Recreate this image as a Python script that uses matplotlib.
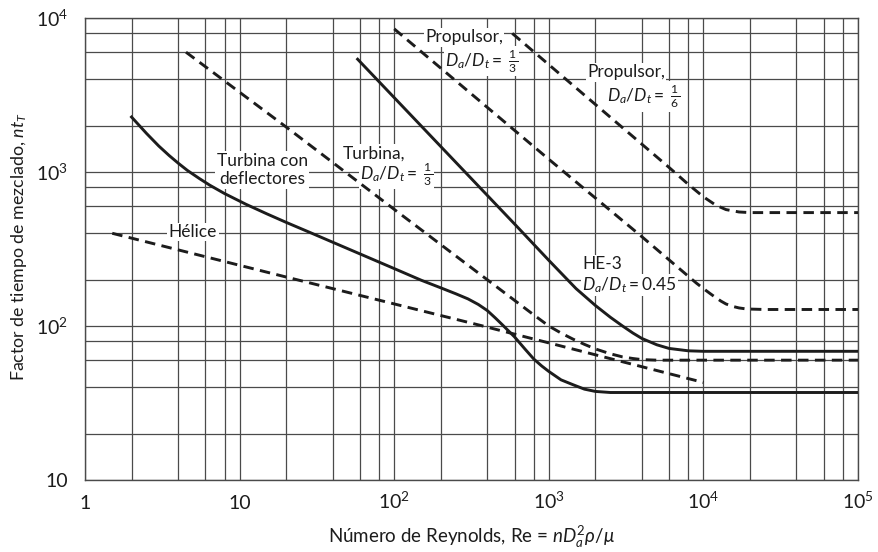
import matplotlib
matplotlib.use("Agg")
import matplotlib.pyplot as plt
from matplotlib.ticker import LogLocator, NullFormatter

plt.rcParams["font.family"] = ["Lato", "DejaVu Sans"]
plt.rcParams["mathtext.fontset"] = "custom"
plt.rcParams["mathtext.rm"] = "Lato"
plt.rcParams["mathtext.it"] = "Lato:italic"
plt.rcParams["mathtext.bf"] = "Lato:bold"
plt.rcParams["mathtext.fallback"] = "stixsans"

# Hélice (dashed)
helice_re = [1.5, 20, 360, 10000]
helice_nt = [400, 208, 101, 43]

# Turbina con deflectores (solid)
defl_re = [2, 2.5, 3, 3.5, 4, 4.6, 5.5, 6.4, 8, 11, 15, 20, 28.5, 40, 60, 100,
           150, 200, 250, 300, 350, 400, 450, 500, 600, 700, 800, 900, 1000,
           1200, 1440, 1700, 2000, 2500, 1e5]
defl_nt = [2275, 1780, 1475, 1280, 1143, 1023, 906, 822, 724, 617, 535, 471,
           405, 350, 294, 236, 198, 177, 162, 150, 138, 126, 113, 102, 85, 71,
           61, 55, 50.7, 44.7, 41.5, 38.9, 37.6, 37, 37]

# Turbina, Da/Dt = 1/3 (dashed)
turb_re = [4.5, 20, 100, 800, 1000, 1200, 1440, 1700, 2000, 2500, 3000, 3500,
           4000, 5000, 1e5]
turb_nt = [6000, 1960, 572, 118, 100, 90, 82, 76, 71, 66, 63, 61.5, 60.5, 60,
           60]

# HE-3, Da/Dt = 0.45 (solid)
he3_re = [58, 600, 1000, 1500, 2000, 2500, 3000, 3500, 4000, 5000, 6000, 8000,
          10000, 1e5]
he3_nt = [5400, 460, 267, 175, 136, 114, 100, 90, 83, 75.5, 71.5, 69, 68.5,
          68.5]

# Propulsor, Da/Dt = 1/3 (dashed)
prop3_re = [100, 1000, 4000, 9000, 10000, 11000, 12000, 13000, 14000, 15500,
            17000, 19000, 25000, 1e5]
prop3_nt = [8500, 1210, 380, 190, 175, 163, 153, 145, 139, 134, 131, 129, 128,
            128]

# Propulsor, Da/Dt = 1/6 (dashed)
prop6_re = [580, 6000, 8000, 10000, 12000, 14000, 17000, 20000, 1e5]
prop6_nt = [7950, 1070, 830, 690, 610, 570, 550, 545, 545]

x_ticks = [1, 10, 1e2, 1e3, 1e4, 1e5]
x_tick_labels = ["1", "10", "$10^2$", "$10^3$", "$10^4$", "$10^5$"]
y_ticks = [10, 1e2, 1e3, 1e4]
y_tick_labels = ["10", "$10^2$", "$10^3$", "$10^4$"]

ink = "#1c1c1c"
grid_col = "#4a4a4a"

fig = plt.figure(figsize=(8.79, 5.52), dpi=100)
ax = fig.add_axes([85 / 879, 1 - 480 / 552, 773 / 879, 462 / 552])
ax.set_xscale("log")
ax.set_yscale("log")
ax.set_xlim(1, 1e5)
ax.set_ylim(10, 1e4)

# grid at 1, 2, 4, 6, 8 of every decade
for axis in (ax.xaxis, ax.yaxis):
    axis.set_minor_locator(LogLocator(base=10, subs=(2, 4, 6, 8)))
    axis.set_minor_formatter(NullFormatter())
ax.set_axisbelow(True)
ax.grid(True, which="both", color=grid_col, lw=0.9)
for s in ax.spines.values():
    s.set_color(grid_col)
    s.set_linewidth(1.0)

ax.set_xticks(x_ticks, x_tick_labels)
ax.set_yticks(y_ticks, y_tick_labels)
ax.tick_params(which="both", length=0, labelsize=14, colors=ink)
ax.tick_params(axis="x", pad=21)
ax.tick_params(axis="y", pad=12)
for lbl in ax.get_xticklabels():
    lbl.set_va("baseline")

dash = (3.6, 2.2)
lw = 2.1
ax.plot(helice_re, helice_nt, color=ink, lw=lw, dashes=dash, zorder=4)
ax.plot(defl_re, defl_nt, color=ink, lw=lw, zorder=4)
ax.plot(turb_re, turb_nt, color=ink, lw=lw, dashes=dash, zorder=4)
ax.plot(he3_re, he3_nt, color=ink, lw=lw, zorder=4)
ax.plot(prop3_re, prop3_nt, color=ink, lw=lw, dashes=dash, zorder=4)
ax.plot(prop6_re, prop6_nt, color=ink, lw=lw, dashes=dash, zorder=4)

box = dict(facecolor="white", edgecolor="none", pad=1.0)
fs = 12.5


def label(x, y, s, ha="left", z=3):
    ax.text(x, y, s, ha=ha, va="center", fontsize=fs, color=ink, bbox=box,
            zorder=z)


label(14.0, 1030, "Turbina con\ndeflectores", ha="center")
label(5.0, 408, "Hélice", ha="center")
label(46.6, 1320, "Turbina,", z=3.2)
label(60, 975, r"$D_a/D_t = \ \frac{1}{3}$")
label(158, 7500, "Propulsor,", z=3.2)
label(213, 5250, r"$D_a/D_t = \ \frac{1}{3}$")
label(1766, 4450, "Propulsor,", z=3.2)
label(2380, 3100, r"$D_a/D_t = \ \frac{1}{6}$")
label(1640, 252, "HE-3", z=3.2)
label(1640, 184, r"$D_a/D_t = 0.45$")

fig.text(471.5 / 879, 1 - 537 / 552,
         r"Número de Reynolds, Re = $nD_a^2\rho/\mu$",
         ha="center", va="center", fontsize=13.5, color=ink)
fig.text(19 / 879, 1 - 247 / 552, r"Factor de tiempo de mezclado, $nt_T$",
         ha="center", va="center", rotation=90, fontsize=12.8, color=ink)

fig.savefig("out.png", dpi=100)
